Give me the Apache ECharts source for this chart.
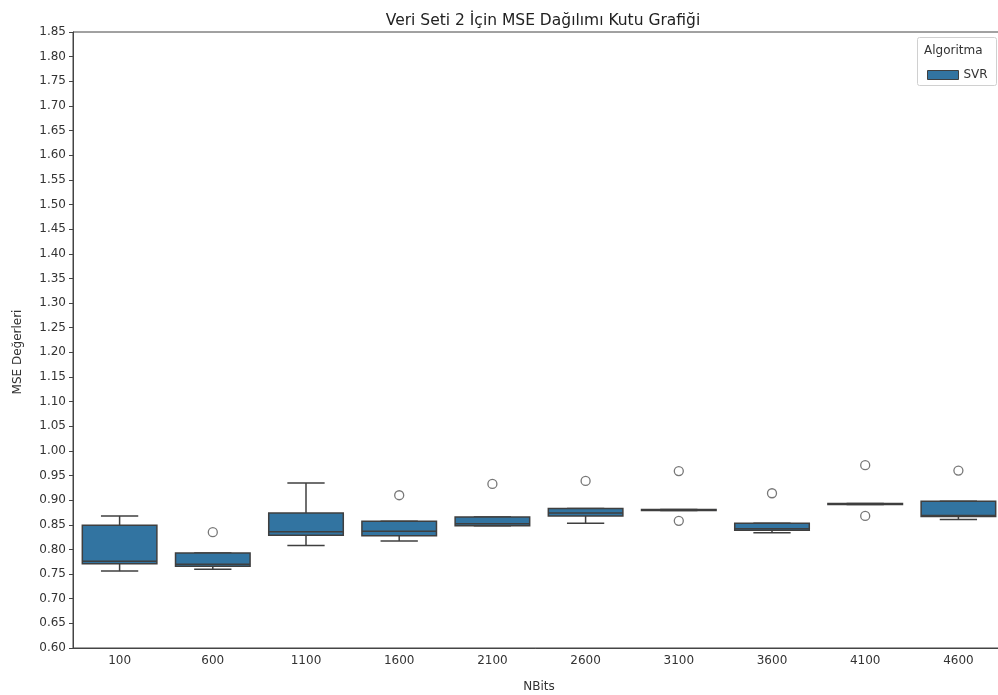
<!DOCTYPE html>
<html>
<head>
<meta charset="utf-8">
<style>
  html, body { margin: 0; padding: 0; background: #ffffff; }
  #chart { width: 998px; height: 695px; }
</style>
<script src="https://cdn.jsdelivr.net/npm/echarts@6/dist/echarts.min.js"></script>
</head>
<body>
<div id="chart"></div>
<script>
// NBits groups on the x axis
const categories = ['100', '600', '1100', '1600', '2100', '2600', '3100', '3600', '4100', '4600'];

// Five-number summary per group (whisker low, Q1, median, Q3, whisker high)
const whiskerLow  = [0.756, 0.760, 0.808, 0.817, 0.848, 0.853, 0.879, 0.834, 0.891, 0.861];
const q1          = [0.771, 0.766, 0.829, 0.828, 0.848, 0.868, 0.879, 0.839, 0.891, 0.867];
const medians     = [0.776, 0.770, 0.836, 0.837, 0.852, 0.874, 0.880, 0.842, 0.892, 0.869];
const q3          = [0.849, 0.793, 0.874, 0.857, 0.866, 0.883, 0.881, 0.853, 0.893, 0.898];
const whiskerHigh = [0.868, 0.793, 0.935, 0.857, 0.866, 0.883, 0.881, 0.853, 0.893, 0.898];

// Outlier points: [group index, value]
const outliers = [
  [1, 0.835], [3, 0.910], [4, 0.933], [5, 0.939],
  [6, 0.959], [6, 0.858], [7, 0.914], [8, 0.971], [8, 0.868], [9, 0.960]
];

// Y axis tick settings
const yMin = 0.60, yMax = 1.85, yStep = 0.05;

const boxFill = '#3274a1';
const lineColor = '#3f3f3f';

const boxData = categories.map((c, i) => [i, whiskerLow[i], q1[i], medians[i], q3[i], whiskerHigh[i]]);

function renderBox(params, api) {
  const idx = api.value(0);
  const band = api.size([1, 0])[0];
  const boxW = band * 0.8;
  const capW = boxW / 2;
  const pLow = api.coord([idx, api.value(1)]);
  const pQ1 = api.coord([idx, api.value(2)]);
  const pMed = api.coord([idx, api.value(3)]);
  const pQ3 = api.coord([idx, api.value(4)]);
  const pHigh = api.coord([idx, api.value(5)]);
  const cx = pMed[0];
  const stroke = { stroke: lineColor, lineWidth: 1.5 };
  const children = [];
  // whiskers
  children.push({ type: 'line', shape: { x1: cx, y1: pQ1[1], x2: cx, y2: pLow[1] }, style: stroke });
  children.push({ type: 'line', shape: { x1: cx, y1: pQ3[1], x2: cx, y2: pHigh[1] }, style: stroke });
  // caps
  children.push({ type: 'line', shape: { x1: cx - capW / 2, y1: pLow[1], x2: cx + capW / 2, y2: pLow[1] }, style: stroke });
  children.push({ type: 'line', shape: { x1: cx - capW / 2, y1: pHigh[1], x2: cx + capW / 2, y2: pHigh[1] }, style: stroke });
  // box
  children.push({
    type: 'rect',
    shape: { x: cx - boxW / 2, y: pQ3[1], width: boxW, height: pQ1[1] - pQ3[1] },
    style: { fill: boxFill, stroke: lineColor, lineWidth: 1.5 }
  });
  // median
  children.push({ type: 'line', shape: { x1: cx - boxW / 2, y1: pMed[1], x2: cx + boxW / 2, y2: pMed[1] }, style: stroke });
  return { type: 'group', children: children };
}

const chart = echarts.init(document.getElementById('chart'), null, { renderer: 'canvas' });

chart.setOption({
  animation: false,
  backgroundColor: '#ffffff',
  textStyle: { fontFamily: 'DejaVu Sans' },
  title: {
    text: 'Veri Seti 2 İçin MSE Dağılımı Kutu Grafiği',
    left: 538, top: 8, textAlign: 'center',
    textStyle: { fontFamily: 'DejaVu Sans', fontSize: 15.5, fontWeight: 'normal', color: '#222' }
  },
  grid: {
    left: 73, top: 32, width: 932, height: 616,
    outerBoundsMode: 'none',
    show: true, borderColor: '#444', borderWidth: 1, backgroundColor: 'transparent'
  },
  legend: {
    data: [{ name: 'SVR', icon: 'rect' }],
    left: 922, top: 64, z: 10,
    itemWidth: 31, itemHeight: 9, itemGap: 6,
    textStyle: { fontFamily: 'DejaVu Sans', fontSize: 12, color: '#333' },
    itemStyle: { color: boxFill, borderColor: lineColor, borderWidth: 1 }
  },
  graphic: [
    {
      type: 'rect', left: 917, top: 37, z: 1,
      shape: { width: 79, height: 48, r: 2 },
      style: { fill: 'rgba(255,255,255,0.8)', stroke: '#d0d0d0', lineWidth: 1 }
    },
    {
      type: 'text', left: 924, top: 45, z: 2,
      style: { text: 'Algoritma', font: '12px "DejaVu Sans"', fill: '#333' }
    },
    {
      type: 'text', x: 18, y: 352, rotation: Math.PI / 2, z: 2,
      style: {
        text: 'MSE Değerleri', font: '12px "DejaVu Sans"', fill: '#333',
        align: 'center', verticalAlign: 'middle'
      }
    }
  ],
  xAxis: {
    type: 'category',
    data: categories,
    name: 'NBits',
    nameLocation: 'middle',
    nameGap: 33,
    nameTextStyle: { fontFamily: 'DejaVu Sans', fontSize: 12, color: '#333' },
    axisLine: { lineStyle: { color: '#444', width: 1 } },
    axisTick: { alignWithLabel: true, length: 4, lineStyle: { color: '#444' } },
    axisLabel: { fontFamily: 'DejaVu Sans', fontSize: 12, color: '#333', margin: 7 },
    splitLine: { show: false }
  },
  yAxis: {
    type: 'value',
    min: yMin, max: yMax, interval: yStep,
    axisLine: { show: true, lineStyle: { color: '#444', width: 1 } },
    axisTick: { show: true, length: 4, lineStyle: { color: '#444' } },
    axisLabel: {
      fontFamily: 'DejaVu Sans', fontSize: 12, color: '#333', margin: 7,
      formatter: v => v.toFixed(2)
    },
    splitLine: { show: false }
  },
  series: [
    {
      name: 'SVR',
      type: 'custom',
      renderItem: renderBox,
      encode: { x: 0, y: [1, 2, 3, 4, 5] },
      itemStyle: { color: boxFill },
      data: boxData,
      z: 3
    },
    {
      name: 'outliers',
      type: 'scatter',
      symbol: 'circle',
      symbolSize: 9,
      itemStyle: { color: '#ffffff', borderColor: '#555', borderWidth: 1.3 },
      data: outliers,
      z: 4
    }
  ]
});
</script>
</body>
</html>
